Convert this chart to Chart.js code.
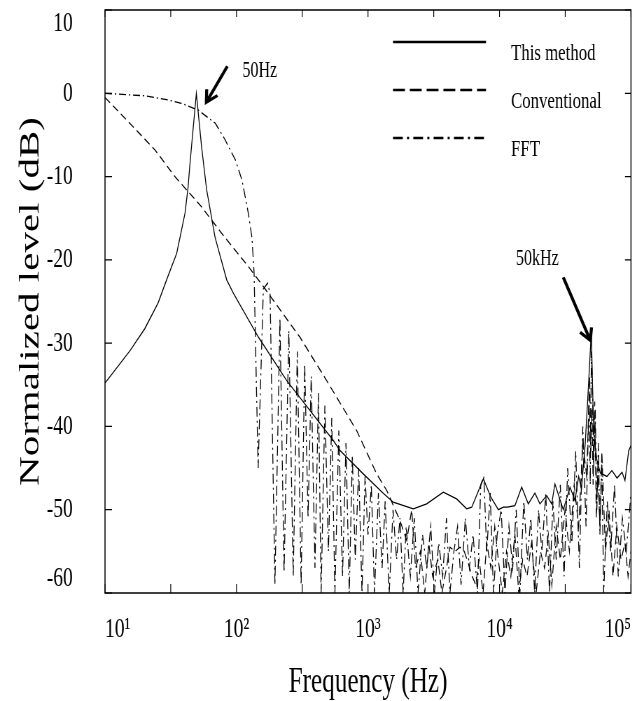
<!DOCTYPE html>
<html>
<head>
<meta charset="utf-8">
<script src="https://cdn.jsdelivr.net/npm/chart.js@4/dist/chart.umd.min.js"></script>
<style>
  html, body { margin: 0; background: #fff; }
  canvas { display: block; }
</style>
</head>
<body>
<!-- drawn 1/0.7 wide and shown at 637px, so the Times text gets the narrow look of the scan -->
<canvas id="chart" width="910" height="701" style="width:637px;height:701px"></canvas>
<script>
const SX = 0.7;
const FONT = "'Liberation Serif', 'Times New Roman', serif";

// x axis: decades labelled, half decades only get a tick
const xTickValues = [10, 31.62, 100, 316.2, 1000, 3162, 10000, 31620, 100000];
const xTickLabels = ['10¹', '10²', '10³', '10⁴', '10⁵'];
const seriesNames = ['This method', 'Conventional', 'FFT'];

// This method (solid)
const methodFreq = [10, 15.5, 20, 25.3, 29.4, 35.1, 40.6, 42.8, 44.3, 49.5, 54.3, 59.3, 68.7, 84.2, 94.6,
  147, 241, 545, 613, 920, 1300, 1556, 2209, 2793, 3740, 4720, 5630, 6150, 7540, 8600, 9800,
  10700, 11500, 13100, 14750, 16560, 18600, 20300, 22850, 24950, 26400, 30550, 34400, 37500,
  40000, 42000, 44900, 47600, 49900, 52000, 55000, 58400, 65600, 71600, 78300, 85500, 90000, 96100, 100000];
const methodDb = [-34.8, -30.9, -28.3, -25.2, -22.4, -19.2, -14.4, -11.3, -8.4, 0, -6.5, -11.6, -17.3, -22.4, -24,
  -29.3, -34.5, -41.7, -42.9, -45.7, -48, -49.1, -49.9, -49.3, -47.9, -48.7, -49.9, -49.7, -46.3, -48.5, -50,
  -49.7, -49.7, -49.5, -47.3, -49.3, -48, -49.3, -48.3, -49.3, -46.9, -50, -47.3, -48.9,
  -46, -47.5, -42, -34.8, -28.7, -40.8, -44, -45.6, -46, -45.3, -46.2, -45.5, -46.5, -42.9, -42.3];

// Conventional (dashed)
const convFreq = [10, 15, 24, 34, 54, 77, 123, 160, 304, 485, 820, 1165, 1390, 1750, 1970,
  2150, 2300, 2500, 2700, 2900, 3100, 3400, 3650, 3900, 4200, 4600, 5000, 5400, 5800, 6200, 6600,
  7000, 7500, 8000, 8600, 9200, 9800, 10500, 11300, 12200, 13100, 14000, 15000, 16200, 17500,
  19000, 20500, 22000, 23500, 25000, 27000, 29000, 31500, 34000, 37000, 40000, 43000, 46000,
  47500, 48500, 49500, 50500, 51500, 53000, 54500, 56000, 58000, 60000, 64000, 68000, 73000,
  78000, 84000, 90000, 95000, 100000];
const convDb = [-0.5, -3.4, -6.8, -10, -13.6, -16.8, -20.8, -23.2, -29.3, -34.5, -40.5, -45.7, -47.7, -51.3, -53.7,
  -50, -57, -55, -60, -54, -58, -56, -60, -57.5, -54.5, -55, -54.5, -55, -56.5, -58, -59,
  -56, -60, -54, -57, -52, -56, -60, -55, -58, -53, -60, -56, -58, -54,
  -60, -55, -57, -53, -59, -52, -56, -50, -55, -47, -52, -42, -46,
  -39, -34, -43, -38, -47, -37, -51, -45, -52, -43, -55, -50, -58,
  -52, -56, -54, -58, -55];

// FFT (dash-dot)
const fftFreq = [10, 20, 30, 38, 51, 69, 82, 98, 110, 123, 131, 136,
  146, 160, 172, 180, 196, 214, 230, 250, 270, 290, 310, 330, 350, 370, 395, 420, 440, 470,
  500, 530, 560, 600, 640, 680, 720, 760, 800, 850, 900, 950, 1000, 1060, 1120, 1200, 1280,
  1350, 1450, 1550, 1650, 1750, 1850, 1950, 2100, 2250, 2400, 2600, 2800, 3000, 3200, 3450,
  3700, 3950, 4200, 4500, 4800, 5100, 5500, 5900, 6300, 6800, 7200, 7600, 8000, 8500, 9000,
  9600, 10300, 11000, 11800, 12600, 13400, 14300, 15300, 16300, 17300, 18500, 19800, 21000,
  22500, 24000, 25500, 27000, 29000, 31000, 33000, 35500, 38000, 40500, 43000, 45500, 46800,
  48000, 49000, 50000, 51000, 52000, 53500, 55000, 56500, 58000, 60000, 62000, 66000, 70000,
  75000, 80000, 86000, 92000, 100000];
const fftDb = [0, -0.3, -0.8, -1.2, -2, -3.6, -5.6, -8, -10.4, -14.4, -17.3, -21.5,
  -45, -23.5, -22.8, -24, -59, -27, -57.5, -28.5, -58, -31, -59, -32.5, -51, -34, -57, -36, -60, -37.5,
  -55, -39, -60, -40.5, -58, -42, -60, -43.5, -56, -45, -60, -46, -53, -47, -60, -48, -57,
  -49, -60, -50, -56, -51, -60, -52, -58, -51, -60, -53, -57, -52, -60, -54,
  -58, -51, -60, -55, -52, -59, -51, -57, -53, -60, -47, -46, -55, -48, -60,
  -53, -50, -60, -52, -57, -50, -60, -49, -56, -51, -60, -50, -55,
  -48, -60, -49, -56, -47, -58, -45, -54, -43, -57, -40, -52, -44,
  -36, -47, -31, -36, -45, -38, -50, -42, -53, -44, -60, -49, -55,
  -47, -58, -51, -55, -48];

// arrows pointing at the two peaks
const markerText = ['50Hz', '50kHz'];
const markerFreq = [49.5, 49900];
const markerDb = [0, -28.7];

const pts = (fs, ds) => fs.map((f, i) => ({ x: f, y: ds[i] }));

// closed frame with inward ticks on all four sides
const framePlugin = {
  id: 'frame',
  afterDraw(chart) {
    const { ctx, chartArea: a, scales: { x, y } } = chart;
    ctx.save();
    ctx.strokeStyle = '#000';
    ctx.lineWidth = 1.5;
    ctx.strokeRect(a.left, a.top, a.right - a.left, a.bottom - a.top);
    ctx.lineWidth = 1.2;
    ctx.beginPath();
    x.ticks.forEach(t => {
      const px = x.getPixelForValue(t.value);
      ctx.moveTo(px, a.bottom); ctx.lineTo(px, a.bottom - 9);
      ctx.moveTo(px, a.top); ctx.lineTo(px, a.top + 7);
    });
    y.ticks.forEach(t => {
      const py = y.getPixelForValue(t.value);
      ctx.moveTo(a.left, py); ctx.lineTo(a.left + 7 / SX, py);
      ctx.moveTo(a.right, py); ctx.lineTo(a.right - 6 / SX, py);
    });
    ctx.stroke();
    ctx.restore();
  }
};

// legend inside the plot, top right
const legendDash = [[], [17, 7], [14, 6, 3, 6]];
const legendPlugin = {
  id: 'insideLegend',
  afterDraw(chart) {
    const { ctx, chartArea: a } = chart;
    ctx.save();
    ctx.fillStyle = '#000';
    ctx.strokeStyle = '#000';
    ctx.font = '24px ' + FONT;
    ctx.textBaseline = 'alphabetic';
    chart.data.datasets.forEach((ds, i) => {
      const ly = a.top + 32 + i * 48;
      const x0 = a.left + 288 / SX;
      ctx.lineWidth = 2.4;
      ctx.setLineDash(legendDash[i]);
      ctx.beginPath();
      ctx.moveTo(x0, ly);
      ctx.lineTo(x0 + 93 / SX, ly);
      ctx.stroke();
      ctx.setLineDash([]);
      ctx.fillText(ds.label, x0 + 118 / SX, ly + 18);
    });
    ctx.restore();
  }
};

function drawArrow(ctx, x1, y1, x2, y2) {
  // coordinates in screen px; ctx already scaled so 1 unit = 1 screen px
  const ang = Math.atan2(y2 - y1, x2 - x1);
  const len = 13;
  ctx.beginPath();
  ctx.moveTo(x1, y1);
  ctx.lineTo(x2, y2);
  ctx.moveTo(x2 - len * Math.cos(ang - 0.5), y2 - len * Math.sin(ang - 0.5));
  ctx.lineTo(x2, y2);
  ctx.lineTo(x2 - len * Math.cos(ang + 0.5), y2 - len * Math.sin(ang + 0.5));
  ctx.stroke();
}

const markerPlugin = {
  id: 'markers',
  afterDraw(chart) {
    const { ctx, scales: { x, y } } = chart;
    const tails = [[31, -27], [-28, -55]];
    const heads = [[10, 9], [-1, 8]];
    const labels = [[46, -16, 'left'], [-54, -67, 'center']];
    markerText.forEach((txt, i) => {
      const px = x.getPixelForValue(markerFreq[i]) * SX;
      const py = y.getPixelForValue(markerDb[i]);
      ctx.save();
      ctx.scale(1 / SX, 1);
      ctx.strokeStyle = '#000';
      ctx.lineWidth = 3;
      drawArrow(ctx, px + tails[i][0], py + tails[i][1], px + heads[i][0], py + heads[i][1]);
      ctx.restore();
      ctx.save();
      ctx.fillStyle = '#000';
      ctx.font = '23px ' + FONT;
      ctx.textAlign = labels[i][2];
      ctx.fillText(txt, (px + labels[i][0]) / SX, py + labels[i][1]);
      ctx.restore();
    });
  }
};

const base = { showLine: true, pointRadius: 0, borderColor: '#000', borderWidth: 1.3, tension: 0 };

new Chart(document.getElementById('chart'), {
  type: 'scatter',
  data: {
    datasets: [
      Object.assign({}, base, { label: seriesNames[0], data: pts(methodFreq, methodDb), borderDash: [] }),
      Object.assign({}, base, { label: seriesNames[1], data: pts(convFreq, convDb), borderDash: [9, 5] }),
      Object.assign({}, base, { label: seriesNames[2], data: pts(fftFreq, fftDb), borderDash: [10, 4, 2, 4] })
    ]
  },
  options: {
    responsive: false,
    animation: false,
    devicePixelRatio: 1,
    layout: { padding: { left: 0, right: 8.6, top: 10, bottom: 0 } },
    plugins: { legend: { display: false }, tooltip: { enabled: false } },
    scales: {
      x: {
        type: 'logarithmic',
        min: 10,
        max: 100000,
        afterBuildTicks: s => { s.ticks = xTickValues.map(v => ({ value: v })); },
        afterFit: s => { s.height = 108; s.paddingLeft = 0; s.paddingRight = 0; },
        grid: { display: false, drawTicks: false },
        border: { display: false },
        ticks: {
          autoSkip: false,
          maxRotation: 0,
          align: 'inner',
          padding: 20,
          color: '#000',
          font: { family: FONT, size: 28 },
          callback: v => {
            const k = Math.log10(v);
            return Math.abs(k - Math.round(k)) < 0.01 ? xTickLabels[Math.round(k) - 1] : '';
          }
        },
        title: {
          display: true,
          text: 'Frequency (Hz)',
          color: '#000',
          padding: 0,
          font: { family: FONT, size: 36, lineHeight: 1 }
        }
      },
      y: {
        min: -60,
        max: 10,
        afterFit: s => { s.width = 150; s.paddingTop = 0; s.paddingBottom = 0; },
        grid: { display: false, drawTicks: false },
        border: { display: false },
        ticks: {
          stepSize: 10,
          padding: 46,
          color: '#000',
          font: { family: FONT, size: 28, lineHeight: 1 },
          // end labels sit inside the frame, like the original
          callback: v => v === 10 ? ['', '10'] : v === -60 ? ['-60', ''] : String(v)
        },
        title: {
          display: true,
          text: 'Normalized level (dB)',
          color: '#000',
          padding: { top: 20, bottom: 0 },
          font: { family: FONT, size: 41 }
        }
      }
    }
  },
  plugins: [framePlugin, legendPlugin, markerPlugin]
});
</script>
</body>
</html>
